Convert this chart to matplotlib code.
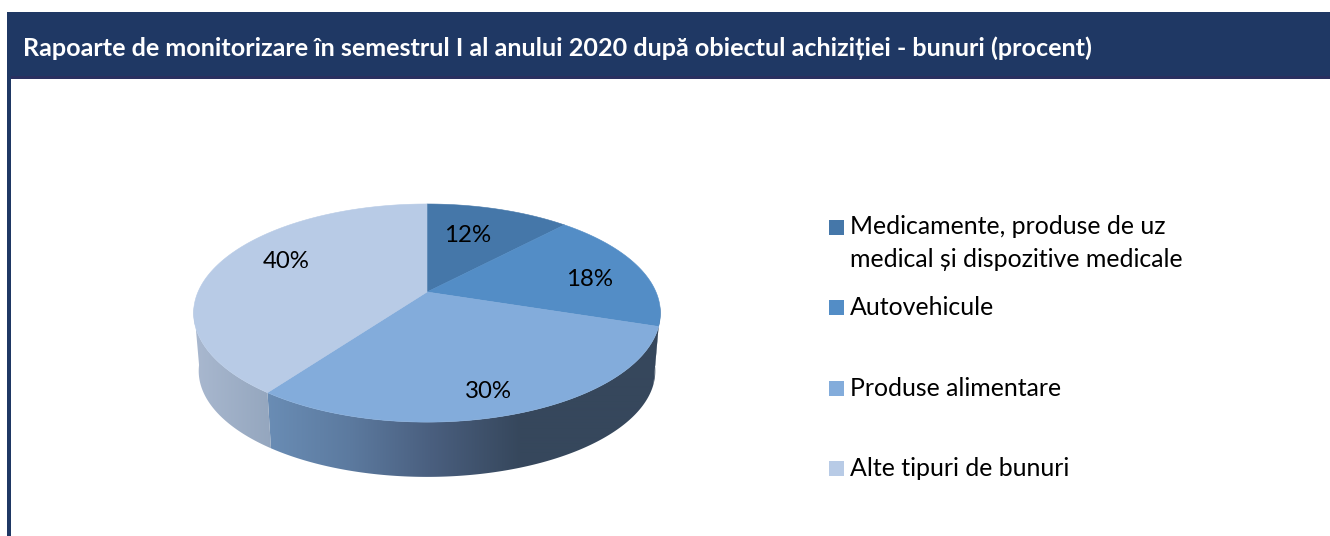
import numpy as np
import matplotlib
matplotlib.use("Agg")
import matplotlib.pyplot as plt
from matplotlib.patches import Rectangle, Polygon

plt.rcParams['font.family'] = ['Lato', 'DejaVu Sans']

TITLE = "Rapoarte de monitorizare în semestrul I al anului 2020 după obiectul achiziției - bunuri (procent)"
categories = ["Medicamente, produse de uz\nmedical și dispozitive medicale",
              "Autovehicule", "Produse alimentare", "Alte tipuri de bunuri"]
values = [12, 18, 30, 40]
colors = ["#4577A9", "#538DC6", "#83ACDB", "#B8CBE6"]

W, H = 1330, 536
fig = plt.figure(figsize=(W / 100, H / 100), dpi=100)
ax = fig.add_axes([0, 0, 1, 1])
ax.set_xlim(0, W)
ax.set_ylim(H, 0)
ax.axis("off")

# header and frame
NAVY = "#1F3864"
ax.add_patch(Rectangle((7, 12), W - 7, 65, fc=NAVY, ec="none"))
ax.add_patch(Rectangle((7, 76), W - 7, 3, fc="#2A3060", ec="none"))
ax.add_patch(Rectangle((7, 12), 4, H - 12, fc=NAVY, ec="none"))
ax.text(23, 48, TITLE, color="white", fontsize=18.1, fontweight="bold", va="center", ha="left")

# perspective projection of a disc
K = 0.193
CX = 427.0


def project(theta, r, a, b, cy):
    u, v = r * np.sin(theta), r * np.cos(theta)
    w = 1 + K * v
    return CX + a * u / w, cy - b * v / w


TOP = dict(a=229.0, b=105.0, cy=292.0)
BOT = dict(a=224.0, b=102.0, cy=350.5)

edges = np.radians(np.concatenate([[0], np.cumsum(values)]) * 3.6)

# side wall: gradient along screen x, per slice
wall_stops = {
    1: ([640, 662], ["#36475C", "#36475C"]),
    2: ([266, 350, 430, 520, 662], ["#6A8DB5", "#5C7A9F", "#4A5F7F", "#36475C", "#36475C"]),
    3: ([190, 272], ["#AAB9D0", "#94A6BE"]),
}

grid_x = np.arange(185, 670)
for i, (xs, cols) in wall_stops.items():
    t0 = max(edges[i], np.radians(98))
    t1 = min(edges[i + 1], np.radians(262))
    ts = np.linspace(t0, t1, 200)
    xt, yt = project(ts, 1, **TOP)
    xb, yb = project(ts[::-1], 1, **BOT)
    poly = Polygon(np.c_[np.r_[xt, xb], np.r_[yt, yb]], closed=True, transform=ax.transData,
                   fc="none", ec="none")
    ax.add_patch(poly)
    rgb = np.array([matplotlib.colors.to_rgb(c) for c in cols])
    grad = np.stack([np.interp(grid_x, xs, rgb[:, j]) for j in range(3)], axis=-1)[None, :, :]
    im = ax.imshow(grad, extent=(185, 670, 490, 300), aspect="auto", zorder=2,
                   interpolation="bilinear")
    im.set_clip_path(poly)
ax.set_xlim(0, W)
ax.set_ylim(H, 0)

# top face
for i, col in enumerate(colors):
    th = np.linspace(edges[i], edges[i + 1], 200)
    px, py = project(th, 1, **TOP)
    ax.fill(np.r_[CX, px], np.r_[TOP["cy"], py], fc=col, ec=col, lw=0.4, zorder=3)

# percent labels
label_xy = [(468, 236), (590, 279), (488, 392), (286, 262)]
for v, (x, y) in zip(values, label_xy):
    ax.text(x, y, f"{v}%", fontsize=17.3, ha="center", va="center", color="black", zorder=5)

# legend
legend_y = [227.5, 307.5, 388.5, 468.5]
for name, col, y in zip(categories, colors, legend_y):
    ax.add_patch(Rectangle((829, y - 7.5), 15, 15, fc=col, ec="none"))
    if "\n" in name:
        ax.text(850, y + 15.5, name, fontsize=17.9, va="center", ha="left", linespacing=1.48, color="black")
    else:
        ax.text(850, y, name, fontsize=17.9, va="center", ha="left", color="black")

fig.savefig("out.png", dpi=100)
